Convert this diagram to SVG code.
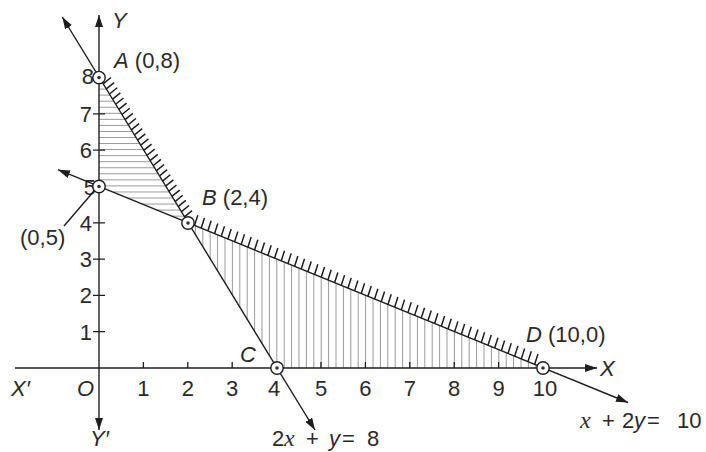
<svg xmlns="http://www.w3.org/2000/svg" width="706" height="452" viewBox="0 0 706 452">
<defs>
<marker id="arr" viewBox="0 0 12 8" refX="12" refY="4" markerWidth="12" markerHeight="8" markerUnits="userSpaceOnUse" orient="auto-start-reverse"><path d="M0,0 L12,4 L0,8 z" fill="#1e1e1e"/></marker>
</defs>
<style>
.ax{stroke:#1e1e1e;stroke-width:1.4;fill:none}
.ln{stroke:#1e1e1e;stroke-width:1.4;fill:none}
.tk{stroke:#1e1e1e;stroke-width:1.3;fill:none}
.sh{stroke:#9a9a9a;stroke-width:1;fill:none}
.hatch{stroke:#1e1e1e;stroke-width:1.5;fill:none}
text{font-family:"Liberation Sans",Arial,sans-serif;font-size:22px;fill:#2a2a2a}
.it{font-style:italic}
.m{font-family:"Liberation Serif","Times New Roman",serif;font-style:italic;font-size:24px}
.e{text-anchor:end}
.c{text-anchor:middle}
.o{fill:#fff;stroke:#1e1e1e;stroke-width:1.4}
.d{fill:#333}
</style>
<rect width="706" height="452" fill="#fff"/>
<g id="shading">
<path class="sh" d="M99,83.05H102.7M99,89.1H106.4M99,95.15H110.1M99,101.2H113.8M99,107.25H117.5M99,113.3H121.2M99,119.35H124.9M99,125.4H128.6M99,131.45H132.3M99,137.5H136M99,143.55H139.7M99,149.6H143.4M99,155.65H147.1M99,161.7H150.8M99,167.75H154.5M99,173.8H158.2M99,179.85H162M99,185.9H165.7M112.3,191.95H169.4M127,198H173.1M141.8,204.05H176.8M156.5,210.1H180.5M171.3,216.15H184.2"/>
<path class="sh" d="M195.4,226V235.1M202.8,229.05V247.1M210.2,232.1V259.2M217.6,235.1V271.2M225,238.1V283.3M232.4,241.1V295.3M239.8,244.2V307.4M247.2,247.2V319.4M254.6,250.2V331.5M262,253.2V343.5M269.4,256.3V355.6M276.8,259.3V368M284.2,262.3V368M291.6,265.3V368M299,268.4V368M306.4,271.4V368M313.8,274.4V368M321.2,277.4V368M328.6,280.5V368M336,283.5V368M343.4,286.5V368M350.8,289.5V368M358.2,292.5V368M365.6,295.6V368M373,298.6V368M380.4,301.6V368M387.8,304.6V368M395.2,307.7V368M402.6,310.7V368M410,313.7V368M417.4,316.7V368M424.8,319.7V368M432.2,322.8V368M439.6,325.8V368M447,328.8V368M454.4,331.8V368M461.8,334.9V368M469.2,337.9V368M476.6,340.9V368M484,343.9V368M491.4,347V368M498.8,350V368M506.2,353V368M513.6,356V368M521,359V368M528.4,362.1V368M535.8,365.1V368"/>
</g>
<g id="axes">
<path class="ax" d="M99,430 L99,15" marker-start="url(#arr)" marker-end="url(#arr)"/>
<path class="ax" d="M15,368 L597,368" marker-end="url(#arr)"/>
<path class="tk" d="M143.4,362V368M187.8,362V368M232.2,362V368M276.6,362V368M321,362V368M365.4,362V368M409.8,362V368M454.2,362V368M498.6,362V368M543,362V368"/>
<path class="tk" d="M93,331.7H105M93,295.4H105M93,259.1H105M93,222.8H105M93,186.5H105M93,150.2H105M93,113.9H105M93,77.6H105"/>
<g id="axis-labels">
<text class="e" x="92" y="339.5">1</text>
<text class="e" x="92" y="303.2">2</text>
<text class="e" x="92" y="266.9">3</text>
<text class="e" x="92" y="230.6">4</text>
<text class="e" x="96" y="195">5</text>
<text class="e" x="92" y="158">6</text>
<text class="e" x="92" y="121.7">7</text>
<text class="e" x="94" y="84">8</text>
<text class="c" x="143.4" y="396">1</text>
<text class="c" x="187.8" y="396">2</text>
<text class="c" x="232.2" y="396">3</text>
<text class="c" x="274" y="396">4</text>
<text class="c" x="321" y="396">5</text>
<text class="c" x="365.4" y="396">6</text>
<text class="c" x="409.8" y="396">7</text>
<text class="c" x="454.2" y="396">8</text>
<text class="c" x="498.6" y="396">9</text>
<text class="c" x="545" y="396">10</text>
<text class="it" x="77" y="396">O</text>
<text class="it" x="11" y="396">X′</text>
<text class="it" x="600" y="376">X</text>
<text class="it" x="112" y="28">Y</text>
<text class="it" x="90" y="446">Y′</text>
</g>
</g>
<g id="connectors">
<path class="ln" d="M62.3,17 L315,430" marker-start="url(#arr)" marker-end="url(#arr)"/>
<path class="ln" d="M58,169.7 L628,402.5" marker-start="url(#arr)" marker-end="url(#arr)"/>
<path class="hatch" d="M103.2,83.8
l7.8,-6.3m-4.68,11.42 l7.8,-6.3m-4.68,11.42 l7.8,-6.3m-4.68,11.42 l7.8,-6.3m-4.68,11.42 l7.8,-6.3m-4.68,11.42
l7.8,-6.3m-4.68,11.42 l7.8,-6.3m-4.68,11.42 l7.8,-6.3m-4.68,11.42 l7.8,-6.3m-4.68,11.42 l7.8,-6.3m-4.68,11.42
l7.8,-6.3m-4.68,11.42 l7.8,-6.3m-4.68,11.42 l7.8,-6.3m-4.68,11.42 l7.8,-6.3m-4.68,11.42 l7.8,-6.3m-4.68,11.42
l7.8,-6.3m-4.68,11.42 l7.8,-6.3m-4.68,11.42 l7.8,-6.3m-4.68,11.42 l7.8,-6.3m-4.68,11.42 l7.8,-6.3m-4.68,11.42
l7.8,-6.3m-4.68,11.42 l7.8,-6.3m-4.68,11.42 l7.8,-6.3m-4.68,11.42 l7.8,-6.3m-4.68,11.42 l7.8,-6.3m-4.68,11.42
l7.8,-6.3m-4.68,11.42 l7.8,-6.3"/>
<path class="hatch" d="M194.5,225.6
l3.3,-10.3m3.37,13.02 l3.3,-10.3m3.37,13.02 l3.3,-10.3m3.37,13.02 l3.3,-10.3m3.37,13.02 l3.3,-10.3m3.37,13.02
l3.3,-10.3m3.37,13.02 l3.3,-10.3m3.37,13.02 l3.3,-10.3m3.37,13.02 l3.3,-10.3m3.37,13.02 l3.3,-10.3m3.37,13.02
l3.3,-10.3m3.37,13.02 l3.3,-10.3m3.37,13.02 l3.3,-10.3m3.37,13.02 l3.3,-10.3m3.37,13.02 l3.3,-10.3m3.37,13.02
l3.3,-10.3m3.37,13.02 l3.3,-10.3m3.37,13.02 l3.3,-10.3m3.37,13.02 l3.3,-10.3m3.37,13.02 l3.3,-10.3m3.37,13.02
l3.3,-10.3m3.37,13.02 l3.3,-10.3m3.37,13.02 l3.3,-10.3m3.37,13.02 l3.3,-10.3m3.37,13.02 l3.3,-10.3m3.37,13.02
l3.3,-10.3m3.37,13.02 l3.3,-10.3m3.37,13.02 l3.3,-10.3m3.37,13.02 l3.3,-10.3m3.37,13.02 l3.3,-10.3m3.37,13.02
l3.3,-10.3m3.37,13.02 l3.3,-10.3m3.37,13.02 l3.3,-10.3m3.37,13.02 l3.3,-10.3m3.37,13.02 l3.3,-10.3m3.37,13.02
l3.3,-10.3m3.37,13.02 l3.3,-10.3m3.37,13.02 l3.3,-10.3m3.37,13.02 l3.3,-10.3m3.37,13.02 l3.3,-10.3m3.37,13.02
l3.3,-10.3m3.37,13.02 l3.3,-10.3m3.37,13.02 l3.3,-10.3m3.37,13.02 l3.3,-10.3m3.37,13.02 l3.3,-10.3m3.37,13.02
l3.3,-10.3m3.37,13.02 l3.3,-10.3m3.37,13.02 l3.3,-10.3m3.37,13.02 l3.3,-10.3m3.37,13.02 l3.3,-10.3m3.37,13.02
l3.3,-10.3m3.37,13.02 l3.3,-10.3"/>
<path class="ln" d="M64,226 L94,191" stroke-width="1.2"/>
</g>
<g id="line-labels">
<text x="272" y="446">2<tspan class="m" x="284">x</tspan><tspan x="306">+</tspan><tspan class="it" x="329">y</tspan><tspan x="342">=</tspan><tspan x="367">8</tspan></text>
<text x="580" y="428"><tspan class="m">x</tspan><tspan x="602">+</tspan><tspan x="622">2</tspan><tspan class="it" x="634">y</tspan><tspan x="647">=</tspan><tspan x="677">10</tspan></text>
</g>
<g id="node-A"><circle class="o" cx="99" cy="77.6" r="6.2"/><circle class="d" cx="99" cy="77.6" r="1.8"/><text x="114" y="68"><tspan class="it">A</tspan> (0,8)</text></g>
<g id="node-P05"><circle class="o" cx="99" cy="186.5" r="6.2"/><circle class="d" cx="99" cy="186.5" r="1.8"/><text x="20" y="245">(0,5)</text></g>
<g id="node-B"><circle class="o" cx="188" cy="223" r="6.2"/><circle class="d" cx="188" cy="223" r="1.8"/><text x="202" y="205"><tspan class="it">B</tspan> (2,4)</text></g>
<g id="node-C"><circle class="o" cx="277" cy="368" r="6.2"/><circle class="d" cx="277" cy="368" r="1.8"/><text class="it" x="240" y="362">C</text></g>
<g id="node-D"><circle class="o" cx="543" cy="368" r="6.2"/><circle class="d" cx="543" cy="368" r="1.8"/><text x="526" y="342"><tspan class="it">D</tspan> (10,0)</text></g>
</svg>
